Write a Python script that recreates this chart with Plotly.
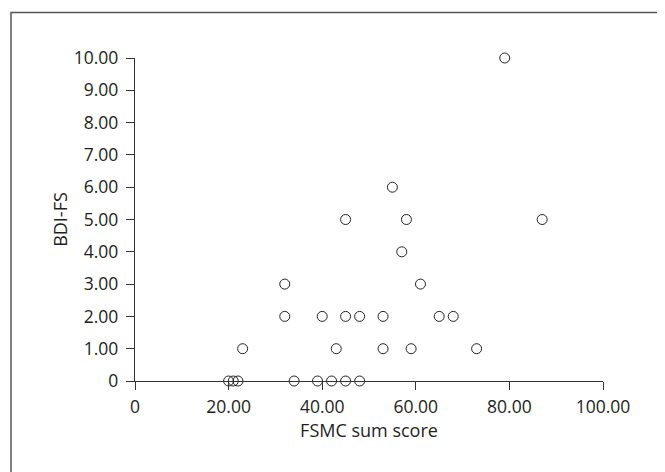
import plotly.graph_objects as go

fsmc = [20, 21, 22, 34, 39, 42, 45, 48,
        23, 43, 53, 59, 73,
        32, 40, 45, 48, 53, 65, 68,
        32, 61,
        57,
        45, 58, 87,
        55,
        79]
bdi = [0, 0, 0, 0, 0, 0, 0, 0,
       1, 1, 1, 1, 1,
       2, 2, 2, 2, 2, 2, 2,
       3, 3,
       4,
       5, 5, 5,
       6,
       10]

x_ticks = [0, 20, 40, 60, 80, 100]
x_ticktext = ["0", "20.00", "40.00", "60.00", "80.00", "100.00"]
y_ticks = [0, 1, 2, 3, 4, 5, 6, 7, 8, 9, 10]
y_ticktext = ["0", "1.00", "2.00", "3.00", "4.00", "5.00", "6.00", "7.00", "8.00", "9.00", "10.00"]

W, H = 665, 472
L, R, T, B = 127, 70, 50, 99
pw, ph = W - L - R, H - T - B

def px_to_paper_x(p):
    return (p - L) / pw

def px_to_paper_y(p):
    return (H - B - p) / ph

TXT = "#231f20"

fig = go.Figure()
fig.add_trace(go.Scatter(
    x=fsmc, y=bdi, mode="markers",
    marker=dict(symbol="circle-open", size=10, color="#222", line=dict(width=1, color="#222")),
    cliponaxis=False, showlegend=False, hoverinfo="x+y",
))

axis_common = dict(
    showgrid=False, zeroline=False, showline=True, linecolor="#333", linewidth=1.3,
    ticks="outside", ticklen=8, tickwidth=1.2, tickcolor="#333",
    tickfont=dict(family="Open Sans", size=17.5, color=TXT),
    fixedrange=True,
)

fig.update_xaxes(range=[0, 100], tickmode="array", tickvals=x_ticks, ticktext=x_ticktext,
                 title=dict(text="FSMC sum score", font=dict(family="Open Sans", size=18, color=TXT), standoff=5),
                 ticklabelstandoff=2, **axis_common)
fig.update_yaxes(range=[0, 10], tickmode="array", tickvals=y_ticks, ticktext=y_ticktext,
                 title=dict(text="BDI-FS", font=dict(family="Open Sans", size=18, color=TXT), standoff=1),
                 ticklabelstandoff=4, **axis_common)

fig.add_shape(type="rect", xref="paper", yref="paper",
              x0=px_to_paper_x(3), x1=px_to_paper_x(W + 30),
              y0=px_to_paper_y(H + 30), y1=px_to_paper_y(4.5),
              line=dict(color="#555", width=1.5), fillcolor="rgba(0,0,0,0)", layer="above")

fig.update_layout(
    width=W, height=H,
    margin=dict(l=L, r=R, t=T, b=B, autoexpand=False),
    paper_bgcolor="white", plot_bgcolor="white",
    font=dict(family="Open Sans", color=TXT),
)

fig.write_html("out.html")
